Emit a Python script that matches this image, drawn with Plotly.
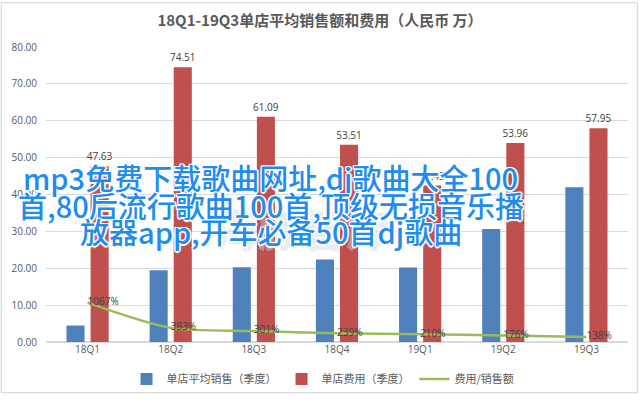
import plotly.graph_objects as go

quarters = ["18Q1", "18Q2", "18Q3", "18Q4", "19Q1", "19Q2", "19Q3"]
sales = [4.46, 19.45, 20.28, 22.38, 20.20, 30.64, 41.99]
fees = [47.63, 74.51, 61.09, 53.51, 42.43, 53.96, 57.95]
ratio_pct = [1067, 383, 301, 239, 210, 176, 138]
ratio_val = [r / 100 for r in ratio_pct]
ratio_labels = [f"{r}%" for r in ratio_pct]

title_text = "18Q1-19Q3单店平均销售额和费用（人民币 万）"
overlay_lines = [
    "mp3免费下载歌曲网址,dj歌曲大全100",
    "首,80后流行歌曲100首,顶级无损音乐播",
    "放器app,开车必备50首dj歌曲",
]

CJK = "Noto Sans CJK SC"
gray = "#595959"

fig = go.Figure()
fig.add_trace(go.Bar(
    x=quarters, y=sales, name="单店平均销售（季度）",
    marker=dict(color="#4f81bd", line=dict(width=0)),
    hoverinfo="skip",
))
fig.add_trace(go.Bar(
    x=quarters, y=fees, name="单店费用（季度）",
    marker=dict(color="#c0504d", line=dict(width=0)),
    text=[f"{v:.2f}" for v in fees], textposition="outside", constraintext="none",
    outsidetextfont=dict(family="Open Sans", size=10, color="#404040"),
    cliponaxis=False, hoverinfo="skip",
))
fig.add_trace(go.Scatter(
    x=quarters, y=ratio_val, name="费用/销售额", mode="lines+text",
    line=dict(color="#9bbb59", width=2.5, shape="spline", smoothing=0.8),
    text=ratio_labels, textposition="middle right",
    textfont=dict(family="Open Sans", size=10, color="#404040"),
    cliponaxis=False, hoverinfo="skip",
))

# faint watermark
fig.add_annotation(
    text="海豚智库", xref="paper", yref="paper", x=0.44, y=0.27,
    showarrow=False, font=dict(family=CJK, size=44, color="rgba(205,218,230,0.45)", weight=900),
)

ys = [0.558, 0.466, 0.376]
for line, yy in zip(overlay_lines, ys):
    fig.add_annotation(
        text=line, xref="paper", yref="paper", x=0.386, y=yy,
        xanchor="center", yanchor="middle", showarrow=False,
        font=dict(family=CJK, size=29, color="#1e8cf0", weight=500,
                  shadow="1px 1px 0 #fff, -1px -1px 0 #fff, 1px -1px 0 #fff, -1px 1px 0 #fff, 0 2px 1px #fff, 2px 0 1px #fff"),
    )

# outer frame
fig.add_shape(type="rect", xref="paper", yref="paper",
              x0=-0.077, x1=1.016, y0=-0.172, y1=1.150,
              line=dict(color="#d0d0d0", width=1), fillcolor="rgba(0,0,0,0)", layer="below")

fig.update_layout(
    width=640, height=405,
    margin=dict(l=46, r=12, t=47, b=55),
    paper_bgcolor="white", plot_bgcolor="white",
    barmode="group", bargap=0.42, bargroupgap=0.25,
    title=dict(text=f"<b>{title_text}</b>", x=0.5, xref="container", y=0.95, yanchor="middle",
               font=dict(family=CJK, size=15, color=gray)),
    font=dict(family=CJK, color=gray),
    showlegend=True,
    legend=dict(orientation="h", x=0.476, xanchor="center", y=-0.125, yanchor="middle",
                font=dict(family=CJK, size=11, color=gray), traceorder="normal",
                itemwidth=30, bgcolor="rgba(0,0,0,0)"),
    xaxis=dict(showgrid=False, showline=False, ticks="", zeroline=False,
               tickfont=dict(family="Open Sans", size=10, color=gray)),
    yaxis=dict(range=[0, 80], dtick=10, tickformat=".2f", showgrid=True,
               gridcolor="#d9d9d9", gridwidth=1, zeroline=True, zerolinecolor="#d9d9d9",
               showline=False, ticks="", ticklabelstandoff=8,
               tickfont=dict(family="Open Sans", size=10, color=gray)),
)

fig.write_html("out.html")
